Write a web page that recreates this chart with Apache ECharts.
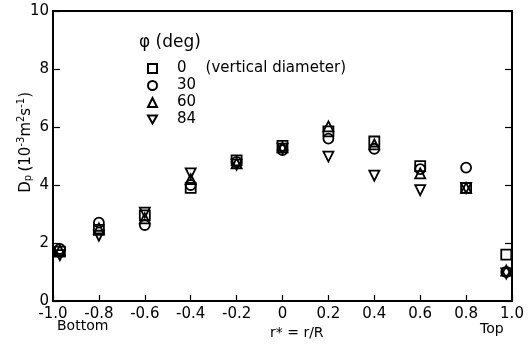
<!DOCTYPE html>
<html><head><meta charset="utf-8">
<script src="https://cdn.jsdelivr.net/npm/echarts@6/dist/echarts.min.js"></script>
<style>html,body{margin:0;padding:0;background:#fff}#c{width:530px;height:349px}</style>
</head><body><div id="c"></div>
<script>
const rPos = [-0.97, -0.8, -0.6, -0.4, -0.2, 0, 0.2, 0.4, 0.6, 0.8, 0.975];
const phi0 = [1.7, 2.45, 2.95, 3.9, 4.85, 5.35, 5.85, 5.5, 4.65, 3.9, 1.6];
const phi30 = [1.8, 2.7, 2.62, 4.0, 4.8, 5.2, 5.6, 5.25, 4.55, 4.6, 1.0];
const phi60 = [1.75, 2.5, 2.85, 4.2, 4.75, 5.3, 6.02, 5.4, 4.4, 3.9, 1.05];
const phi84 = [1.58, 2.25, 3.05, 4.4, 4.7, 5.25, 4.98, 4.32, 3.82, 3.9, 0.95];
const seriesNames = ['0    (vertical diameter)', '30', '60', '84'];
const yTicks = [0, 2, 4, 6, 8, 10];

const font = 'DejaVu Sans';
const pair = arr => rPos.map((x, i) => [x, arr[i]]);
const symbols = ['rect', 'circle', 'triangle', 'path://M0,0 L10,0 L5,9 Z'];
const dataSets = [phi0, phi30, phi60, phi84];

const chart = echarts.init(document.getElementById('c'));
chart.setOption({
  animation: false,
  backgroundColor: '#fff',
  grid: {left: 53, right: 18, top: 11, bottom: 48, containLabel: false},
  legend: {
    orient: 'vertical', left: 142, top: 56, itemGap: 2,
    itemWidth: 9, itemHeight: 9, selectedMode: false,
    data: seriesNames,
    textStyle: {fontFamily: font, fontSize: 15, color: '#000', padding: [0, 0, 0, 15], lineHeight: 15}
  },
  xAxis: [{
    type: 'value', min: -1, max: 1, interval: 0.2, position: 'bottom',
    axisLine: {onZero: false, lineStyle: {color: '#000', width: 2}},
    axisTick: {inside: true, length: 6, lineStyle: {color: '#000', width: 1.2}},
    splitLine: {show: false},
    axisLabel: {fontFamily: font, fontSize: 15, color: '#000', margin: 6,
      formatter: v => Math.abs(v) < 1e-9 ? '0' : v.toFixed(1)}
  }, {
    type: 'value', min: -1, max: 1, position: 'top',
    axisLine: {show: true, onZero: false, lineStyle: {color: '#000', width: 2}},
    axisTick: {show: false}, axisLabel: {show: false}, splitLine: {show: false}
  }],
  yAxis: [{
    type: 'value', min: 0, max: 10, interval: 2, position: 'left',
    axisLine: {show: true, onZero: false, lineStyle: {color: '#000', width: 2}},
    axisTick: {inside: true, length: 7, lineStyle: {color: '#000', width: 1.2}},
    splitLine: {show: false},
    axisLabel: {fontFamily: font, fontSize: 15, color: '#000', margin: 4,
      formatter: v => yTicks.includes(v) ? String(v) : ''}
  }, {
    type: 'value', min: 0, max: 10, interval: 2, position: 'right',
    axisLine: {show: true, onZero: false, lineStyle: {color: '#000', width: 2}},
    axisTick: {inside: true, length: 7, lineStyle: {color: '#000', width: 1.2}},
    axisLabel: {show: false}, splitLine: {show: false}
  }],
  series: dataSets.map((d, i) => ({
    name: seriesNames[i], type: 'scatter', data: pair(d),
    symbol: symbols[i], symbolSize: 10,
    itemStyle: {color: 'rgba(255,255,255,0)', borderColor: '#000', borderWidth: 1.8, opacity: 1}
  })),
  graphic: [
    {type: 'text', left: 139, top: 34, style: {text: 'φ (deg)', fontFamily: font, fontSize: 17, fill: '#000'}},
    {type: 'text', left: 57, top: 319, style: {text: 'Bottom', fontFamily: font, fontSize: 14, fill: '#000'}},
    {type: 'text', left: 480, top: 322, style: {text: 'Top', fontFamily: font, fontSize: 14, fill: '#000'}},
    {type: 'text', left: 270, top: 326, style: {text: 'r* = r/R', fontFamily: font, fontSize: 14, fill: '#000'}},
    {type: 'text', left: 16, top: 92, rotation: Math.PI / 2,
      style: {
        text: '{n|D}{s|p} {n|(10}{u|-3}{n|m}{u|2}{n|s}{u|-1}{n|)}',
        rich: {
          n: {fontFamily: font, fontSize: 15, fill: '#000', verticalAlign: 'bottom'},
          s: {fontFamily: font, fontSize: 10, fill: '#000', padding: [6, 0, 0, 0]},
          u: {fontFamily: font, fontSize: 10, fill: '#000', padding: [0, 0, 8, 0]}
        }
      }}
  ]
});
</script></body></html>
